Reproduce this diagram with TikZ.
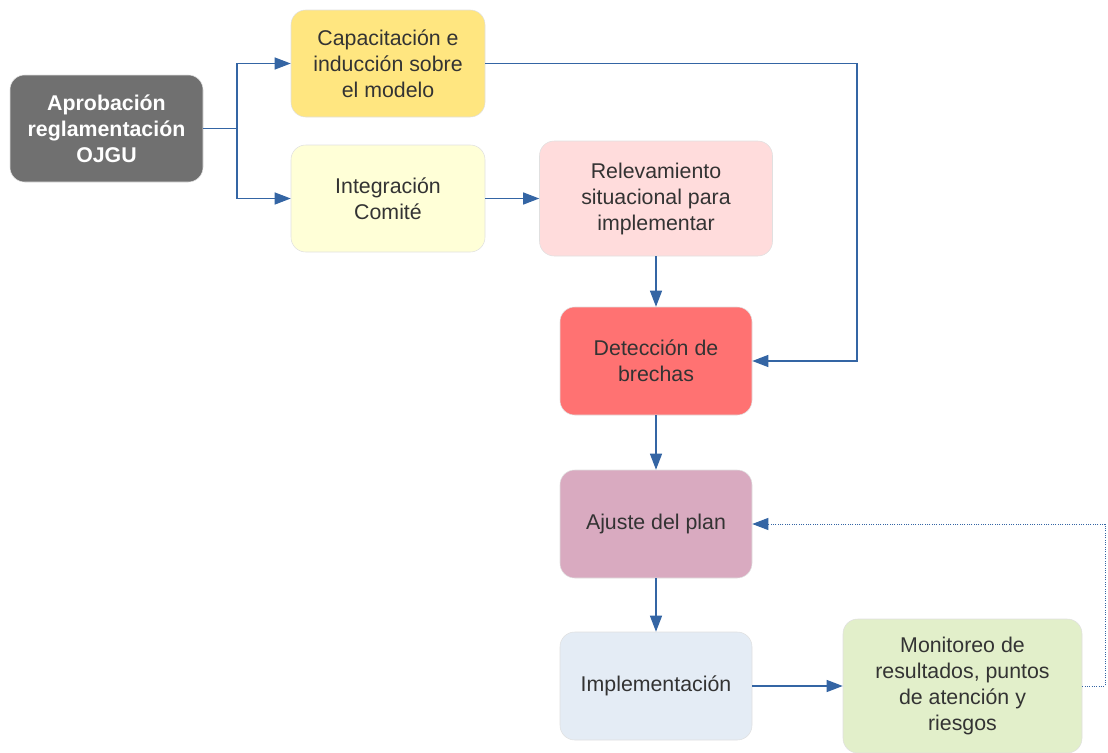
\documentclass[tikz,border=0pt]{standalone}
\usepackage{fontspec}
\setmainfont{Liberation Sans}
\usetikzlibrary{arrows.meta}
\definecolor{linkblue}{HTML}{3465A4}
\definecolor{boxgray}{HTML}{707070}
\definecolor{boxyellow}{HTML}{FFE680}
\definecolor{boxcream}{HTML}{FFFFD7}
\definecolor{boxrose}{HTML}{FFDCDC}
\definecolor{boxred}{HTML}{FF7272}
\definecolor{boxmauve}{HTML}{D9AAC0}
\definecolor{boxblue}{HTML}{E4ECF5}
\definecolor{boxgreen}{HTML}{E2EFCA}
\tikzset{
  box/.style={draw=black!12, rounded corners=11pt, align=center, text=black!80,
    font=\fontsize{16}{19.5}\selectfont, inner sep=2pt,
    minimum width=144pt, minimum height=81pt},
  link/.style={draw=linkblue, line width=0.9pt, -{Triangle[length=12pt,width=9pt]}},
}
\begin{document}
\begin{tikzpicture}[x=0.75pt,y=-0.75pt]
  \useasboundingbox (0,0) rectangle (1108,753);
  % boxes
  \node[box, fill=boxgray, text=white, font=\fontsize{16}{19.5}\selectfont\bfseries,
    minimum width=144.75pt, minimum height=80.25pt] (aprob) at (106.5,128.5)
    {Aprobación\\reglamentación\\OJGU};
  \node[box, fill=boxyellow, minimum width=145.5pt, minimum height=80.25pt] (capac) at (388,63.5)
    {Capacitación e\\inducción sobre\\el modelo};
  \node[box, fill=boxcream, minimum width=145.5pt, minimum height=80.25pt] (integ) at (388,198.5)
    {Integración\\Comité};
  \node[box, fill=boxrose, minimum width=174.75pt, minimum height=86.25pt] (relev) at (656,198.5)
    {Relevamiento\\situacional para\\implementar};
  \node[box, fill=boxred] (detec) at (656,361) {Detección de\\brechas};
  \node[box, fill=boxmauve] (ajuste) at (656,524) {Ajuste del plan};
  \node[box, fill=boxblue] (impl) at (656,686) {Implementación};
  \node[box, fill=boxgreen, minimum width=179.25pt, minimum height=100.5pt] (monit) at (962.5,686)
    {Monitoreo de\\resultados, puntos\\de atención y\\riesgos};
  % corners of the connectors
  \coordinate (split) at (237,128.5);
  \coordinate (rt) at (857,63.5);
  \coordinate (back) at (1105,686);
  % connectors
  \draw[link] (aprob.east) -- (split) |- (capac.west);
  \draw[link] (split) |- (integ.west);
  \draw[link] (capac.east) -- (rt) |- (detec.east);
  \draw[link] (integ.east) -- (relev.west);
  \draw[link] (relev.south) -- (detec.north);
  \draw[link] (detec.south) -- (ajuste.north);
  \draw[link] (ajuste.south) -- (impl.north);
  \draw[link] (impl.east) -- (monit.west);
  \draw[link, line width=0.75pt, densely dotted] (monit.east) -- (back) |- (ajuste.east);
\end{tikzpicture}
\end{document}
